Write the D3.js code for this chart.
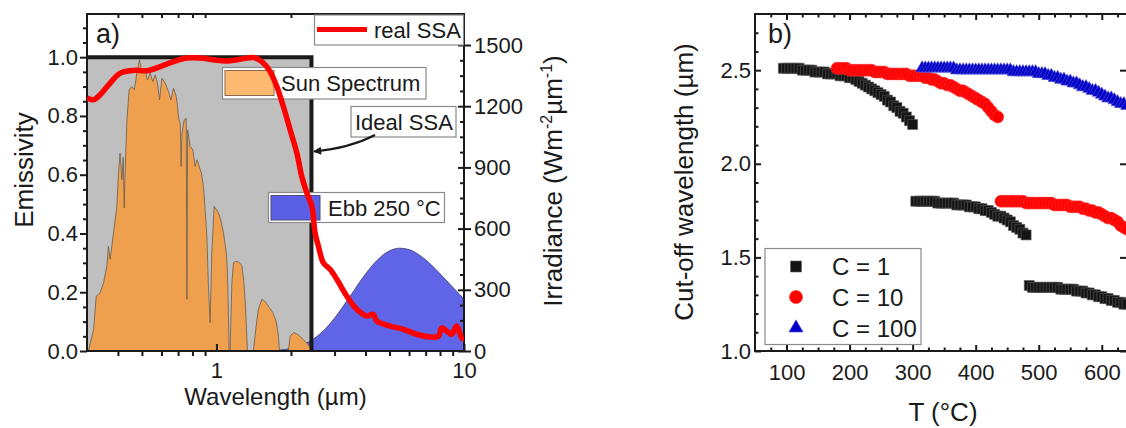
<!DOCTYPE html>
<html>
<head>
<meta charset="utf-8">
<script src="https://cdn.jsdelivr.net/npm/d3@7"></script>
<style>
  body { margin: 0; background: #fff; }
  text { font-family: Arial, "Liberation Sans", sans-serif; fill: #1a1a1a; }
</style>
</head>
<body>
<svg id="chart" width="1126" height="428"></svg>
<script>
// ---------- panel a data ----------
// AM1.5-like solar spectrum, [wavelength µm, irradiance W m^-2 µm^-1]
const sunSpectrum = [
  [0.304, 0], [0.319, 106], [0.327, 269], [0.339, 285], [0.350, 335], [0.361, 416],
  [0.366, 514], [0.372, 449], [0.384, 579], [0.396, 709], [0.402, 872], [0.408, 970],
  [0.415, 840], [0.420, 950], [0.424, 701], [0.428, 900], [0.435, 1133], [0.444, 1280],
  [0.455, 1296], [0.466, 1280], [0.477, 1362], [0.489, 1427], [0.500, 1362], [0.515, 1378],
  [0.526, 1329], [0.540, 1362], [0.553, 1321], [0.566, 1354], [0.578, 1313], [0.589, 1231],
  [0.602, 1337], [0.621, 1313], [0.640, 1272], [0.655, 1231], [0.671, 1288], [0.688, 1247],
  [0.696, 1198], [0.705, 1133], [0.714, 1117], [0.720, 905], [0.726, 1068], [0.741, 1133],
  [0.755, 1141], [0.760, 253], [0.765, 1084], [0.783, 1003], [0.803, 986], [0.820, 905],
  [0.834, 937], [0.845, 921], [0.860, 889], [0.870, 872], [0.886, 807], [0.900, 693],
  [0.915, 562], [0.928, 318], [0.943, 139], [0.958, 481], [0.979, 709], [0.990, 701],
  [1.019, 677], [1.042, 640], [1.067, 580], [1.091, 500], [1.100, 465], [1.112, 318],
  [1.125, 0], [1.135, 0], [1.154, 330], [1.171, 432], [1.201, 440], [1.227, 436],
  [1.266, 420], [1.290, 340], [1.310, 220], [1.334, 0], [1.410, 0], [1.446, 120],
  [1.477, 204], [1.525, 253], [1.548, 250], [1.587, 236], [1.637, 212], [1.690, 188],
  [1.742, 147], [1.780, 73], [1.796, 0], [1.953, 0], [1.984, 73], [2.050, 90],
  [2.100, 86], [2.170, 73], [2.250, 55], [2.350, 30], [2.400, 16], [2.430, 0]
];

// blackbody emissive power at 250 °C, [µm, W m^-2 µm^-1]
const blackbody250 = [
  [1.5, 0.5], [1.8, 4.6], [2.0, 12.5], [2.2, 27], [2.5, 64], [2.7, 98], [3.0, 161],
  [3.5, 276], [4.0, 377], [4.5, 450], [5.0, 491], [5.5, 504], [6.0, 497], [6.5, 476],
  [7.0, 447], [8.0, 379], [9.0, 313], [10.0, 255], [10.5, 228]
];

// measured emissivity of the real selective absorber, [µm, emissivity]
const realSSA = [
  [0.300, 0.861], [0.319, 0.855], [0.339, 0.872], [0.372, 0.912], [0.409, 0.946],
  [0.462, 0.955], [0.524, 0.954], [0.593, 0.968], [0.671, 0.985], [0.759, 0.997],
  [0.860, 0.997], [0.972, 0.991], [1.100, 0.987], [1.247, 0.993], [1.410, 0.999],
  [1.525, 0.985], [1.647, 0.951], [1.753, 0.900], [1.864, 0.832], [1.984, 0.753],
  [2.112, 0.674], [2.212, 0.594], [2.317, 0.538], [2.428, 0.493], [2.503, 0.402],
  [2.581, 0.357], [2.704, 0.300], [2.877, 0.278], [3.063, 0.244], [3.360, 0.187],
  [3.688, 0.142], [4.048, 0.119], [4.302, 0.125], [4.443, 0.102], [5.027, 0.085],
  [5.689, 0.074], [6.440, 0.057], [7.290, 0.048], [7.880, 0.050], [8.130, 0.079],
  [8.510, 0.068], [8.920, 0.057], [9.340, 0.085], [9.790, 0.045], [10.10, 0.040]
];

const idealCutoff = 2.42;
const emisTicks = [0, 0.2, 0.4, 0.6, 0.8, 1.0];
const irrTicks = [0, 300, 600, 900, 1200, 1500];
const wlTicks = [1, 10];
const wlMinor = [0.4, 0.5, 0.6, 0.7, 0.8, 0.9, 2, 3, 4, 5, 6, 7, 8, 9];

// ---------- panel b data: [T °C, cut-off wavelength µm] ----------
const c1Seg1 = [
  [95, 2.51], [100, 2.51], [105, 2.51], [110, 2.51], [115, 2.51], [120, 2.51], [125, 2.50],
  [130, 2.50], [135, 2.50], [140, 2.50], [145, 2.49], [150, 2.49], [155, 2.49], [160, 2.49],
  [165, 2.48], [170, 2.48], [175, 2.48], [180, 2.48], [185, 2.47], [190, 2.47], [195, 2.47],
  [200, 2.46], [205, 2.46], [210, 2.45], [215, 2.44], [220, 2.43], [225, 2.42], [230, 2.41],
  [235, 2.40], [240, 2.39], [245, 2.38], [250, 2.37], [255, 2.36], [260, 2.34], [265, 2.33],
  [270, 2.31], [275, 2.30], [280, 2.28], [285, 2.27], [290, 2.25], [295, 2.23], [300, 2.21]
];
const c1Seg2 = [
  [305, 1.80], [310, 1.80], [315, 1.80], [320, 1.80], [325, 1.80], [330, 1.80], [335, 1.80],
  [340, 1.79], [345, 1.79], [350, 1.79], [355, 1.79], [360, 1.79], [365, 1.79], [370, 1.78],
  [375, 1.78], [380, 1.78], [385, 1.78], [390, 1.77], [395, 1.77], [400, 1.77], [405, 1.76],
  [410, 1.76], [415, 1.75], [420, 1.75], [425, 1.74], [430, 1.73], [435, 1.72], [440, 1.72],
  [445, 1.71], [450, 1.70], [455, 1.69], [460, 1.67], [465, 1.66], [470, 1.65], [475, 1.63],
  [480, 1.62]
];
const c1Seg3 = [
  [485, 1.35], [490, 1.34], [495, 1.34], [500, 1.34], [505, 1.34], [510, 1.34], [515, 1.34],
  [520, 1.34], [525, 1.34], [530, 1.34], [535, 1.33], [540, 1.33], [545, 1.33], [550, 1.33],
  [555, 1.33], [560, 1.32], [565, 1.32], [570, 1.32], [575, 1.31], [580, 1.31], [585, 1.30],
  [590, 1.30], [595, 1.29], [600, 1.29], [605, 1.28], [610, 1.28], [615, 1.27], [620, 1.27],
  [625, 1.26], [630, 1.26], [635, 1.25], [640, 1.25]
];
const c10Seg1 = [
  [180, 2.51], [185, 2.51], [190, 2.51], [195, 2.51], [200, 2.50], [205, 2.50], [210, 2.50],
  [215, 2.50], [220, 2.50], [225, 2.50], [230, 2.50], [235, 2.50], [240, 2.49], [245, 2.49],
  [250, 2.49], [255, 2.49], [260, 2.48], [265, 2.48], [270, 2.48], [275, 2.48], [280, 2.48],
  [285, 2.48], [290, 2.48], [295, 2.47], [300, 2.47], [305, 2.47], [310, 2.47], [315, 2.47],
  [320, 2.46], [325, 2.46], [330, 2.45], [335, 2.45], [340, 2.44], [345, 2.43], [350, 2.43],
  [355, 2.42], [360, 2.42], [365, 2.41], [370, 2.40], [375, 2.39], [380, 2.39], [385, 2.38],
  [390, 2.37], [395, 2.36], [400, 2.35], [405, 2.34], [410, 2.33], [415, 2.32], [420, 2.30],
  [425, 2.28], [430, 2.26], [435, 2.25]
];
const c10Seg2 = [
  [440, 1.80], [445, 1.80], [450, 1.80], [455, 1.80], [460, 1.80], [465, 1.80], [470, 1.80],
  [475, 1.80], [480, 1.79], [485, 1.79], [490, 1.79], [495, 1.79], [500, 1.79], [505, 1.79],
  [510, 1.79], [515, 1.79], [520, 1.79], [525, 1.78], [530, 1.78], [535, 1.78], [540, 1.78],
  [545, 1.78], [550, 1.77], [555, 1.77], [560, 1.77], [565, 1.77], [570, 1.76], [575, 1.76],
  [580, 1.75], [585, 1.75], [590, 1.74], [595, 1.74], [600, 1.73], [605, 1.72], [610, 1.71],
  [615, 1.71], [620, 1.70], [625, 1.69], [630, 1.67], [635, 1.66], [640, 1.65]
];
const c100 = [
  [315, 2.51], [320, 2.51], [325, 2.51], [330, 2.51], [335, 2.51], [340, 2.51], [345, 2.51],
  [350, 2.51], [355, 2.51], [360, 2.51], [365, 2.51], [370, 2.50], [375, 2.50], [380, 2.50],
  [385, 2.50], [390, 2.50], [395, 2.50], [400, 2.50], [405, 2.50], [410, 2.50], [415, 2.50],
  [420, 2.50], [425, 2.50], [430, 2.50], [435, 2.50], [440, 2.50], [445, 2.50], [450, 2.50],
  [455, 2.50], [460, 2.49], [465, 2.49], [470, 2.49], [475, 2.49], [480, 2.49], [485, 2.49],
  [490, 2.49], [495, 2.49], [500, 2.48], [505, 2.48], [510, 2.48], [515, 2.47], [520, 2.47],
  [525, 2.46], [530, 2.46], [535, 2.45], [540, 2.45], [545, 2.44], [550, 2.44], [555, 2.43],
  [560, 2.43], [565, 2.42], [570, 2.41], [575, 2.41], [580, 2.40], [585, 2.39], [590, 2.39],
  [595, 2.38], [600, 2.37], [605, 2.36], [610, 2.35], [615, 2.35], [620, 2.34], [625, 2.33],
  [630, 2.32], [635, 2.32], [640, 2.31]
];

const tTicks = [100, 200, 300, 400, 500, 600];
const tMinor = [75, 125, 150, 175, 225, 250, 275, 325, 350, 375, 425, 450, 475, 525, 550, 575, 625];
const cutTicks = [1.0, 1.5, 2.0, 2.5];
const cutMinor = [1.1, 1.2, 1.3, 1.4, 1.6, 1.7, 1.8, 1.9, 2.1, 2.2, 2.3, 2.4, 2.6, 2.7];

const svg = d3.select("#chart");
const ink = "#1a1a1a";

// small helper: draw an axis, strip the domain line, style ticks/labels
function drawAxis(g, axis, fontSize) {
  g.call(axis);
  g.select(".domain").remove();
  g.selectAll(".tick line").attr("stroke", ink).attr("stroke-width", 2);
  g.selectAll(".tick text").attr("font-size", fontSize).attr("fill", ink)
    .attr("font-family", "Arial, 'Liberation Sans', sans-serif");
  return g;
}

// =================== panel a ===================
const A = { left: 87, right: 464, top: 14, bottom: 351 };
const xA = d3.scaleLog().domain([0.3, 10]).range([A.left, A.right]);
const yE = d3.scaleLinear().domain([0, 1.147]).range([A.bottom, A.top]);
const yI = d3.scaleLinear().domain([0, 1652]).range([A.bottom, A.top]);

const ga = svg.append("g");
ga.append("clipPath").attr("id", "clipA").append("rect")
  .attr("x", A.left).attr("y", A.top)
  .attr("width", A.right - A.left).attr("height", A.bottom - A.top);

const plotA = ga.append("g").attr("clip-path", "url(#clipA)");

// ideal absorber area
plotA.append("rect")
  .attr("x", xA(0.3)).attr("y", yE(1))
  .attr("width", xA(idealCutoff) - xA(0.3))
  .attr("height", yE(0) - yE(1))
  .attr("fill", "#bfbfbf");

// blackbody
plotA.append("path")
  .datum(blackbody250)
  .attr("d", d3.area().curve(d3.curveMonotoneX)
    .x(d => xA(d[0])).y0(yI(0)).y1(d => yI(d[1])))
  .attr("fill", "#4f54e4").attr("fill-opacity", 0.9)
  .attr("stroke", "#3a3a6a").attr("stroke-width", 0.8);

// sun spectrum
plotA.append("path")
  .datum(sunSpectrum)
  .attr("d", d3.area()
    .x(d => xA(d[0])).y0(yI(0)).y1(d => yI(d[1])))
  .attr("fill", "#efa04f")
  .attr("stroke", "#6b5a48").attr("stroke-width", 0.8);

// ideal SSA step line
ga.append("path")
  .attr("d", `M${xA(0.3)},${yE(1)}H${xA(idealCutoff)}V${yE(0)}`)
  .attr("fill", "none").attr("stroke", ink).attr("stroke-width", 4);

// axes of panel a
const fsTick = 22;
drawAxis(ga.append("g").attr("transform", `translate(0,${A.bottom})`),
  d3.axisBottom(xA).tickValues(wlTicks).tickSize(0).tickPadding(11).tickFormat(d3.format("d")), fsTick);
drawAxis(ga.append("g").attr("transform", `translate(0,${A.bottom})`),
  d3.axisBottom(xA).tickValues(wlTicks).tickSize(-7).tickFormat(""), fsTick);
drawAxis(ga.append("g").attr("transform", `translate(0,${A.bottom})`),
  d3.axisBottom(xA).tickValues(wlMinor).tickSize(5).tickFormat(""), fsTick);
drawAxis(ga.append("g").attr("transform", `translate(0,${A.top})`),
  d3.axisTop(xA).tickValues(wlMinor).tickSize(-4).tickFormat(""), fsTick);

drawAxis(ga.append("g").attr("transform", `translate(${A.left},0)`),
  d3.axisLeft(yE).tickValues(emisTicks).tickSize(7).tickPadding(2).tickFormat(d3.format(".1f")), fsTick);
drawAxis(ga.append("g").attr("transform", `translate(${A.left},0)`),
  d3.axisLeft(yE).tickValues(d3.range(0.05, 1.13, 0.05).filter(v => Math.abs(v * 5 - Math.round(v * 5)) > 1e-6))
    .tickSize(4).tickFormat(""), fsTick);

drawAxis(ga.append("g").attr("transform", `translate(${A.right},0)`),
  d3.axisRight(yI).tickValues(irrTicks).tickSize(7).tickPadding(3).tickFormat(d3.format("d")), fsTick);
drawAxis(ga.append("g").attr("transform", `translate(${A.right},0)`),
  d3.axisRight(yI).tickValues(irrTicks).tickSize(-6).tickFormat(""), fsTick);
drawAxis(ga.append("g").attr("transform", `translate(${A.right},0)`),
  d3.axisRight(yI).tickValues(d3.range(75, 1650, 75).filter(v => v % 300 !== 0))
    .tickSize(-4).tickFormat(""), fsTick);

ga.append("rect")
  .attr("x", A.left).attr("y", A.top)
  .attr("width", A.right - A.left).attr("height", A.bottom - A.top)
  .attr("fill", "none").attr("stroke", ink).attr("stroke-width", 2);

// legends of panel a
const legA = ga.append("g");
function legendBox(x, y, w, h) {
  legA.append("rect").attr("x", x).attr("y", y).attr("width", w).attr("height", h)
    .attr("fill", "#fff").attr("stroke", "#8a8a8a").attr("stroke-width", 1.2);
}
legendBox(222.5, 67.5, 203.5, 31.5);
legA.append("rect").attr("x", 225).attr("y", 70.5).attr("width", 49).attr("height", 25)
  .attr("fill", "#fdb96f").attr("stroke", "#8a6a48").attr("stroke-width", 1);
legA.append("text").attr("x", 281).attr("y", 91).attr("font-size", 22).text("Sun Spectrum");

legendBox(268.5, 192.5, 176, 30);
legA.append("rect").attr("x", 271).attr("y", 195.5).attr("width", 49).attr("height", 24.5)
  .attr("fill", "#5b5fe6").attr("stroke", "#4a4a7a").attr("stroke-width", 1);
legA.append("text").attr("x", 328).attr("y", 216).attr("font-size", 22).text("Ebb 250 °C");

legendBox(351, 106.5, 105, 30.5);
legA.append("text").attr("x", 355).attr("y", 130).attr("font-size", 22).text("Ideal SSA");

legendBox(314.5, 15, 149, 30);
legA.append("line").attr("x1", 317).attr("x2", 367).attr("y1", 29.5).attr("y2", 29.5)
  .attr("stroke", "#ff0000").attr("stroke-width", 5);
legA.append("text").attr("x", 374).attr("y", 37.5).attr("font-size", 22).text("real SSA");

// arrow from "Ideal SSA" to the step edge
ga.append("defs").append("marker")
  .attr("id", "arrowHead").attr("viewBox", "0 0 10 10")
  .attr("refX", 9).attr("refY", 5)
  .attr("markerWidth", 4.2).attr("markerHeight", 3.6)
  .attr("markerUnits", "strokeWidth")
  .attr("orient", "auto")
  .append("path").attr("d", "M0,0L10,5L0,10z").attr("fill", ink);
ga.append("path")
  .attr("d", "M375,135 Q350,148 314,151.5")
  .attr("fill", "none").attr("stroke", ink).attr("stroke-width", 2.2)
  .attr("marker-end", "url(#arrowHead)");

// real SSA curve on top of everything
ga.append("g").attr("clip-path", "url(#clipA)")
  .append("path")
  .datum(realSSA)
  .attr("d", d3.line().curve(d3.curveCatmullRom)
    .x(d => xA(d[0])).y(d => yE(d[1])))
  .attr("fill", "none").attr("stroke", "#ff0000")
  .attr("stroke-width", 5.5).attr("stroke-linejoin", "round");

// labels of panel a
ga.append("text").attr("x", 96).attr("y", 43).attr("font-size", 27).text("a)");
ga.append("text").attr("x", (A.left + A.right) / 2).attr("y", 405)
  .attr("text-anchor", "middle").attr("font-size", 24).text("Wavelength (µm)");
ga.append("text")
  .attr("transform", "translate(33,170) rotate(-90)")
  .attr("text-anchor", "middle").attr("font-size", 26).text("Emissivity");
const irrLabel = ga.append("text")
  .attr("transform", "translate(562,181) rotate(-90)")
  .attr("text-anchor", "middle").attr("font-size", 26);
irrLabel.append("tspan").text("Irradiance (Wm");
irrLabel.append("tspan").attr("font-size", 16).attr("dy", -10).text("-2");
irrLabel.append("tspan").attr("dy", 10).text("µm");
irrLabel.append("tspan").attr("font-size", 16).attr("dy", -10).text("-1");
irrLabel.append("tspan").attr("dy", 10).text(")");

// =================== panel b ===================
const B = { left: 755, right: 1127, top: 14, bottom: 351 };
const xB = d3.scaleLinear().domain([50, 640]).range([B.left, B.right]);
const yB = d3.scaleLinear().domain([1.0, 2.8]).range([B.bottom, B.top]);

const gb = svg.append("g");
gb.append("clipPath").attr("id", "clipB").append("rect")
  .attr("x", B.left).attr("y", B.top)
  .attr("width", B.right - B.left).attr("height", B.bottom - B.top);

const plotB = gb.append("g").attr("clip-path", "url(#clipB)");

const series = [
  { name: "C = 1", segs: [c1Seg1, c1Seg2, c1Seg3], type: d3.symbolSquare, size: 100,
    fill: "#151515", stroke: "#5a5a5a" },
  { name: "C = 10", segs: [c10Seg1, c10Seg2], type: d3.symbolCircle, size: 112,
    fill: "#ff0000", stroke: "#ff3030" },
  { name: "C = 100", segs: [c100], type: d3.symbolTriangle, size: 72,
    fill: "#0000c8", stroke: "#5a5ad8" }
];

series.forEach(s => {
  const sym = d3.symbol().type(s.type).size(s.size);
  s.segs.forEach(seg => {
    plotB.append("g").selectAll("path")
      .data(seg)
      .enter()
      .append("path")
      .attr("transform", d => `translate(${xB(d[0])},${yB(d[1])})`)
      .attr("d", sym)
      .attr("fill", s.fill)
      .attr("stroke", s.stroke)
      .attr("stroke-width", 0.6);
  });
});

// axes of panel b, ticks pointing inward
drawAxis(gb.append("g").attr("transform", `translate(0,${B.bottom})`),
  d3.axisBottom(xB).tickValues(tTicks).tickSize(0).tickPadding(13).tickFormat(d3.format("d")), fsTick);
drawAxis(gb.append("g").attr("transform", `translate(0,${B.bottom})`),
  d3.axisBottom(xB).tickValues(tTicks).tickSize(-6).tickFormat(""), fsTick);
drawAxis(gb.append("g").attr("transform", `translate(0,${B.bottom})`),
  d3.axisBottom(xB).tickValues(tMinor).tickSize(-3.5).tickFormat(""), fsTick);
drawAxis(gb.append("g").attr("transform", `translate(0,${B.top})`),
  d3.axisTop(xB).tickValues(tTicks).tickSize(-6).tickFormat(""), fsTick);
drawAxis(gb.append("g").attr("transform", `translate(0,${B.top})`),
  d3.axisTop(xB).tickValues(tMinor).tickSize(-3.5).tickFormat(""), fsTick);

drawAxis(gb.append("g").attr("transform", `translate(${B.left},0)`),
  d3.axisLeft(yB).tickValues(cutTicks).tickSize(0).tickPadding(4).tickFormat(d3.format(".1f")), fsTick);
drawAxis(gb.append("g").attr("transform", `translate(${B.left},0)`),
  d3.axisLeft(yB).tickValues(cutTicks).tickSize(-6).tickFormat(""), fsTick);
drawAxis(gb.append("g").attr("transform", `translate(${B.left},0)`),
  d3.axisLeft(yB).tickValues(cutMinor).tickSize(-3.5).tickFormat(""), fsTick);
drawAxis(gb.append("g").attr("transform", `translate(${B.right - 1},0)`),
  d3.axisRight(yB).tickValues(cutTicks).tickSize(-6).tickFormat(""), fsTick);

gb.append("path")
  .attr("d", `M${B.right},${B.top}H${B.left}V${B.bottom}H${B.right}`)
  .attr("fill", "none").attr("stroke", ink).attr("stroke-width", 2);

// legend of panel b
const legB = gb.append("g");
legB.append("rect").attr("x", 765).attr("y", 248.5).attr("width", 156).attr("height", 96)
  .attr("fill", "#fff").attr("stroke", "#8a8a8a").attr("stroke-width", 1.2);
const legRows = [266.5, 297, 328];
series.forEach((s, i) => {
  legB.append("path")
    .attr("transform", `translate(796,${legRows[i]})`)
    .attr("d", d3.symbol().type(s.type).size(s.size * 1.2))
    .attr("fill", s.fill).attr("stroke", s.stroke).attr("stroke-width", 0.6);
  legB.append("text").attr("x", 832).attr("y", legRows[i] + 8.5)
    .attr("font-size", 24).text(s.name);
});

gb.append("text").attr("x", 768).attr("y", 43).attr("font-size", 27).text("b)");
gb.append("text").attr("x", 943).attr("y", 421)
  .attr("text-anchor", "middle").attr("font-size", 26).text("T (°C)");
gb.append("text")
  .attr("transform", "translate(693,182) rotate(-90)")
  .attr("text-anchor", "middle").attr("font-size", 26).text("Cut-off wavelength (µm)");
</script>
</body>
</html>
